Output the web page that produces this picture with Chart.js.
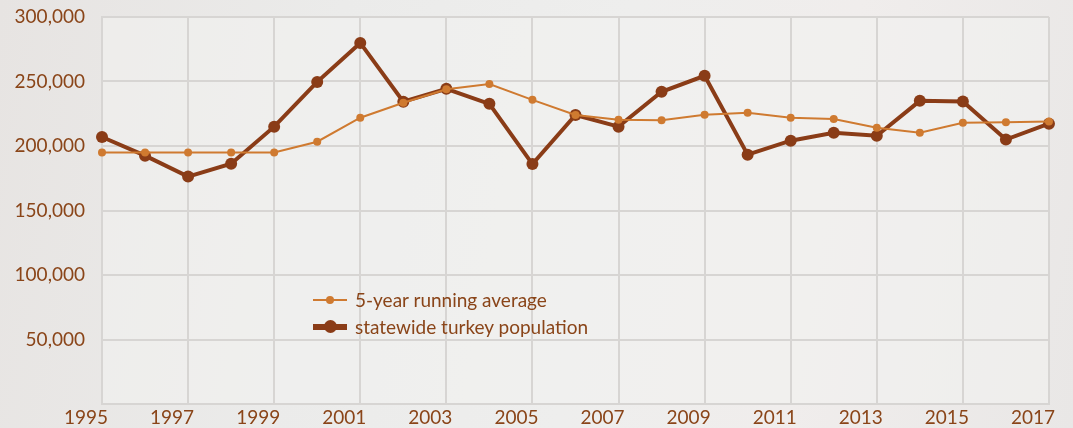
<!DOCTYPE html>
<html>
<head>
<meta charset="utf-8">
<script src="https://cdn.jsdelivr.net/npm/chart.js@4.4.1/dist/chart.umd.min.js"></script>
<style>
  html,body{margin:0;padding:0;}
  body{
    width:1073px;height:428px;overflow:hidden;position:relative;
    background:linear-gradient(100deg,#e7e4e2 0%,#ebebea 30%,#eeeeed 55%,#f0edec 75%,#e9e7e6 100%);
    font-family:Lato,"Open Sans",sans-serif;
  }
  #wrap{position:absolute;left:0;top:0;width:1073px;height:428px;}
  #legend{position:absolute;left:313px;top:286px;color:#8a4519;font-size:19px;}
  .row{display:flex;align-items:center;height:27px;}
  .mark{position:relative;width:34px;height:14px;margin-right:8px;}
  .mark .ln{position:absolute;left:0;right:0;top:50%;}
  .mark .dot{position:absolute;left:50%;top:50%;border-radius:50%;}
</style>
</head>
<body>
<div id="wrap"><canvas id="chart" width="1073" height="428"></canvas></div>
<div id="legend"></div>

<script>
// DATA
const years = [1995,1996,1997,1998,1999,2000,2001,2002,2003,2004,2005,2006,
               2007,2008,2009,2010,2011,2012,2013,2014,2015,2016,2017];
const runningAvg = [195000,195000,195000,195000,195000,203300,221900,233500,244000,248000,235800,224000,
                    220400,220000,224200,225700,221900,221000,214200,210300,218000,218500,219000];
const population = [207000,192500,176300,186300,215000,249700,279900,234300,244300,232700,186000,224000,
                    215000,242000,254400,193300,204100,210300,208000,235000,234500,205000,217300];
const yTicks = [0,50000,100000,150000,200000,250000,300000];
const seriesNames = ["5-year running average","statewide turkey population"];

// STYLE
const textColor = "#8a4519";
const gridColor = "#d7d5d3";
const avgColor = "#cf7a30";
const popColor = "#8a3c17";

// plot area fill
const plotBg = {
  id:"plotBg",
  beforeDraw(chart){
    const a=chart.chartArea, c=chart.ctx;
    c.save();
    c.fillStyle="rgba(242,242,241,0.55)";
    c.fillRect(a.left,a.top,a.right-a.left,a.bottom-a.top);
    c.restore();
  }
};

new Chart(document.getElementById("chart"),{
  type:"line",
  data:{
    labels:years,
    datasets:[
      {label:seriesNames[0],data:runningAvg,borderColor:avgColor,backgroundColor:avgColor,
       borderWidth:2,pointRadius:4,pointBorderWidth:0,tension:0},
      {label:seriesNames[1],data:population,borderColor:popColor,backgroundColor:popColor,
       borderWidth:4,pointRadius:6,pointBorderWidth:0,tension:0}
    ]
  },
  options:{
    responsive:false,
    animation:false,
    layout:{padding:{top:17,right:23,bottom:0,left:0}},
    plugins:{legend:{display:false},tooltip:{enabled:false}},
    scales:{
      x:{
        type:"category",
        afterFit(s){s.height=24;},
        grid:{color:c=>c.index%2===0?gridColor:"transparent",lineWidth:2,drawTicks:false},
        border:{color:gridColor,width:2},
        ticks:{
          color:textColor,font:{family:"Lato",size:19},padding:2,
          autoSkip:false,maxRotation:0,labelOffset:-16,
          callback:(v,i)=>i%2===0?years[i]:""
        }
      },
      y:{
        min:yTicks[0],max:yTicks[yTicks.length-1],
        afterFit(s){s.width=102;},
        afterBuildTicks(s){s.ticks=yTicks.map(v=>({value:v}));},
        // invisible tick marks give the gap between labels and plot
        grid:{color:gridColor,lineWidth:2,drawTicks:true,tickLength:17,tickColor:"transparent"},
        border:{color:gridColor,width:2},
        ticks:{
          color:textColor,font:{family:"Lato",size:19},padding:0,
          callback:v=>v===0?"":v.toLocaleString("en-US")
        }
      }
    }
  },
  plugins:[plotBg]
});

// LEGEND (html)
const legendStyles = [
  {color:avgColor,line:2,dot:8},
  {color:popColor,line:6,dot:13}
];
const lg=document.getElementById("legend");
seriesNames.forEach((name,i)=>{
  const s=legendStyles[i];
  const row=document.createElement("div");
  row.className="row";
  row.innerHTML=`
    <span class="mark">
      <span class="ln" style="height:${s.line}px;margin-top:${-s.line/2}px;background:${s.color}"></span>
      <span class="dot" style="width:${s.dot}px;height:${s.dot}px;margin-left:${-s.dot/2}px;margin-top:${-s.dot/2}px;background:${s.color}"></span>
    </span>
    <span>${name}</span>`;
  lg.appendChild(row);
});
</script>
</body>
</html>
